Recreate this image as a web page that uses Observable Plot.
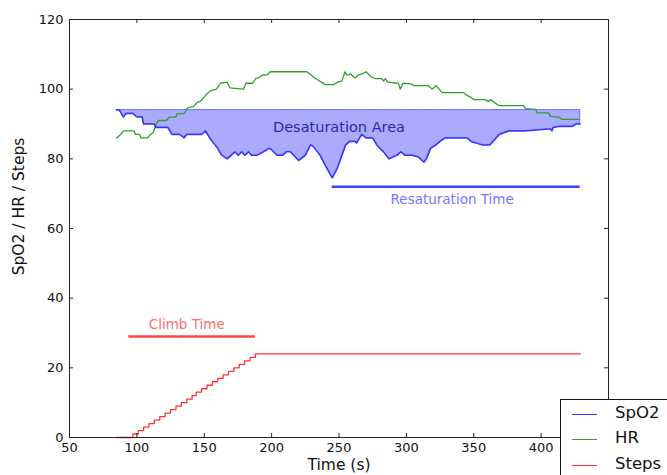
<!DOCTYPE html>
<html>
<head>
<meta charset="utf-8">
<script src="https://cdn.jsdelivr.net/npm/d3@7"></script>
<script src="https://cdn.jsdelivr.net/npm/@observablehq/plot@0.6"></script>
<style>
  html, body { margin: 0; padding: 0; background: white; overflow: hidden; }
  #wrap { position: relative; width: 667px; height: 475px; overflow: hidden; font-family: "DejaVu Sans", sans-serif; }
  #legend { position: absolute; left: 560px; top: 399px; width: 130px; height: 100px; border: 1px solid #111; background: white; box-sizing: border-box; }
  .lg-line { position: absolute; left: 11px; width: 25px; height: 0; border-top: 1.5px solid; }
  .lg-text { position: absolute; left: 54px; font-size: 16.5px; color: #111; line-height: 1; }
</style>
</head>
<body>
<div id="wrap"></div>
<script>
// ---- data ----
const spo2Time = [85,87,90,92,97,100,104,105,113,114,123,126,132,135,137,148,151,154,160,163,167,170,173,175,178,180,183,185,189,194,198,200,204,208,211,214,220,225,229,231,236,240,245,249,255,258,262,263,267,270,275,278,283,287,290,293,296,299,304,309,313,315,318,322,325,329,345,348,356,362,369,376,388,407,408,409,413,423,426,429];
const spo2Value = [94,94,92,93,93,92,92,90,90,89,89,87,87,86,87,87,88,86,83,81,80,81,82,81,82,81,82,81,81,82,83,82.6,81,81,82,82,79.5,81,84,83.5,81,78,74.5,77.5,84,85,85,84.5,87,86,86,84,82,80,80.5,81,82,81,81,80.5,79,80,83,84,85,86,86,85,84,84,87,88,88,88.6,88,89,89.3,89.3,90,90];
const hrTime = [85,88,90,98,99,102,103,108,110,112,115,116,122,124,129,130,135,138,142,145,147,150,152,155,159,162,167,169,179,181,186,188,190,193,197,199,226,229,231,234,240,246,249,252,254.5,256,258.5,261,262,264,268,270,272,274,277,282,283,284.5,286,294,295.5,297.5,304,305.5,316.5,319,322,326.5,342.5,345,348.5,350,358.5,361,363,364,368.5,387,388.5,396,397,405.5,407,413,415.5,428];
const hrValue = [86,87,88,88,87,87,86,86,87,87.5,90.5,91,91,92,92,93,93,94.7,95,96.3,96.5,97.7,98.7,99.6,100,101.7,102,100.4,100,101.7,101.7,103,103.2,104,104.2,105,105,104.2,103.5,102.7,101.3,101.3,102,102.3,105,104,104.4,103.5,103.2,104,104.5,105,104.3,103.5,103,103,102.3,103,102,101.7,100,101.7,101.5,101,101,100,101,99,99,98.2,97.5,97,97,96.5,97,96.5,95.3,95.3,94.4,94.2,93.2,93.2,92.2,92,91.3,91.3];
const stepTime = [85,97,101,105,109,113,117,121,125,129,133,137,141,144,148,152,156,160,164,168,172,176,180,184,188,429];
const stepCount = [0,1,2,3,4,5,6,7,8,9,10,11,12,13,14,15,16,17,18,19,20,21,22,23,24,24];
const baselineSpO2 = 94;
const resatSpan = [245, 429];
const resatLevel = 72;
const climbSpan = [94, 188];
const climbLevel = 29;
const xTicks = [50,100,150,200,250,300,350,400,450];
const xTickLabels = [50,100,150,200,250,300,350,400]; // 450 is hidden under the legend
const yTicks = [0,20,40,60,80,100,120];
const annoDesat = [{t: 250, v: 89, label: "Desaturation Area"}];
const annoResat = [{t: 334, v: 68.3, label: "Resaturation Time"}];
const annoClimb = [{t: 137, v: 32.3, label: "Climb Time"}];
const xLabel = "Time (s)";
const yLabel = "SpO2 / HR / Steps";
const legendItems = ["SpO2", "HR", "Steps"];

// ---- tables ----
const spo2 = spo2Time.map((t, i) => ({t, v: spo2Value[i]}));
const hr = hrTime.map((t, i) => ({t, v: hrValue[i]}));
const steps = stepTime.map((t, i) => ({t, v: stepCount[i]}));

const W = 667, H = 475, mL = 69, mR = 59, mT = 19, mB = 38;
const plotW = W - mL - mR, plotH = H - mT - mB;
const tickLen = 4;
const axisColor = "#222";

const chart = Plot.plot({
  width: W, height: H,
  marginLeft: mL, marginRight: mR, marginTop: mT, marginBottom: mB,
  x: {domain: [50, 450]},
  y: {domain: [0, 120]},
  style: {fontFamily: "'DejaVu Sans', sans-serif", fontSize: "13px", color: "#111", background: "white"},
  marks: [
    Plot.areaY(spo2, {x: "t", y1: "v", y2: baselineSpO2, fill: "#aaaaff", stroke: "#7272ff", strokeWidth: 1}),
    Plot.line(hr, {x: "t", y: "v", stroke: "#2f9e2f", strokeWidth: 1.3}),
    Plot.line(spo2, {x: "t", y: "v", stroke: "#3535ff", strokeWidth: 1.5}),
    Plot.line(steps, {x: "t", y: "v", curve: "step-after", stroke: "#ff3535", strokeWidth: 1.3}),
    Plot.ruleY([resatLevel], {x1: resatSpan[0], x2: resatSpan[1], stroke: "#4040ff", strokeWidth: 2.5}),
    Plot.ruleY([climbLevel], {x1: climbSpan[0], x2: climbSpan[1], stroke: "#ff4545", strokeWidth: 2.5}),
    Plot.text(annoDesat, {x: "t", y: "v", text: "label", fill: "#2a2a9e", fontSize: 14.5}),
    Plot.text(annoResat, {x: "t", y: "v", text: "label", fill: "#7676ff", fontSize: 13.5}),
    Plot.text(annoClimb, {x: "t", y: "v", text: "label", fill: "#ff7070", fontSize: 13.5}),
    Plot.axisX(xTickLabels, {tickSize: 0, tickPadding: 5, label: null, fill: "#111"}),
    Plot.axisY(yTicks, {tickSize: 0, tickPadding: 6, label: null, fill: "#111"}),
    Plot.ruleX(xTicks, {insetTop: plotH - tickLen, stroke: axisColor}),
    Plot.ruleX(xTicks, {insetBottom: plotH - tickLen, stroke: axisColor}),
    Plot.ruleY(yTicks, {insetRight: plotW - tickLen, stroke: axisColor}),
    Plot.ruleY(yTicks, {insetLeft: plotW - tickLen, stroke: axisColor}),
    Plot.frame({stroke: axisColor}),
    Plot.text([yLabel], {frameAnchor: "left", textAnchor: "middle", lineAnchor: "middle", dx: -50, dy: -22, rotate: -90, fontSize: 15.5, text: d => d, fill: "#111"}),
    Plot.text([xLabel], {frameAnchor: "bottom", textAnchor: "middle", lineAnchor: "middle", dy: 27.5, fontSize: 15.5, text: d => d, fill: "#111"})
  ]
});

const wrap = document.getElementById("wrap");
wrap.appendChild(chart);

// legend overlay (as in the reference, it sits over the lower-right corner)
const legendColors = ["#3535ff", "#2f9e2f", "#ff3535"];
const legend = document.createElement("div");
legend.id = "legend";
legendItems.forEach((name, i) => {
  const cy = [14, 39, 65][i];
  const ln = document.createElement("div");
  ln.className = "lg-line";
  ln.style.top = cy + "px";
  ln.style.borderTopColor = legendColors[i];
  legend.appendChild(ln);
  const tx = document.createElement("div");
  tx.className = "lg-text";
  tx.style.top = (cy - 9) + "px";
  tx.textContent = name;
  legend.appendChild(tx);
});
wrap.appendChild(legend);
</script>
</body>
</html>
